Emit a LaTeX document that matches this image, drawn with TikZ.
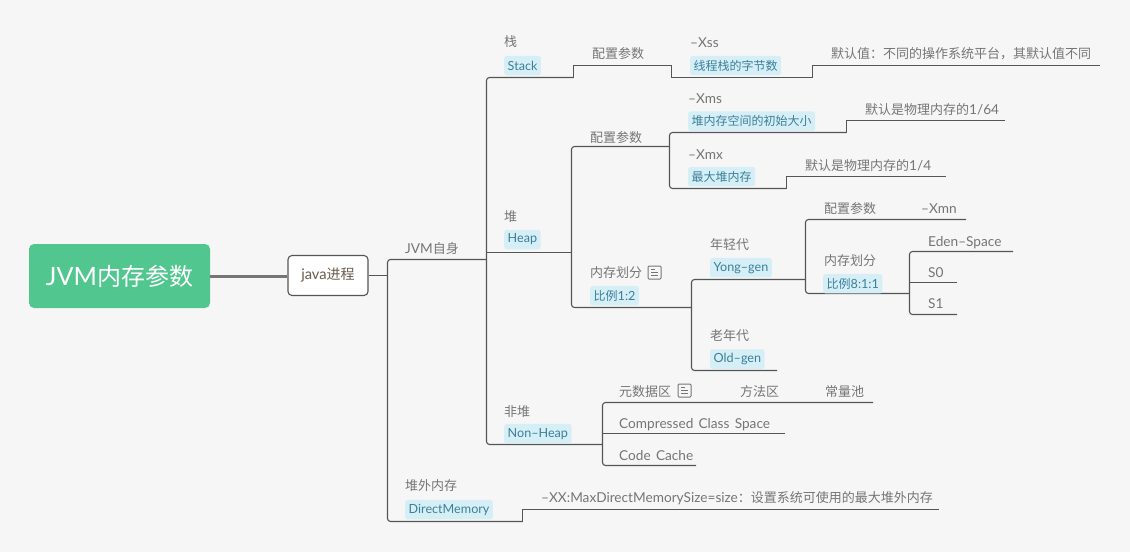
\documentclass[tikz,border=0pt]{standalone}
\usepackage{fontspec}
\setmainfont[Scale=1.05,WordSpace=1.5]{Lato}
\newfontfamily\zhfont{Noto Sans CJK SC}
\XeTeXinterchartokenstate=1
\newXeTeXintercharclass\zhclass
\newcount\zhchar
\zhchar="4E00
\loop
  \XeTeXcharclass\zhchar=\zhclass
  \ifnum\zhchar<"9FFF \advance\zhchar by 1
\repeat
\XeTeXcharclass"FF0C=\zhclass
\XeTeXcharclass"FF1A=\zhclass
\XeTeXinterchartoks 0 \zhclass={\zhfont}
\XeTeXinterchartoks 4095 \zhclass={\zhfont}
\XeTeXinterchartoks \zhclass 0 ={\rmfamily}
\definecolor{pagebg}{HTML}{F6F6F6}
\definecolor{rootgreen}{HTML}{52C68F}
\definecolor{linegray}{HTML}{555555}
\definecolor{labelgray}{HTML}{757575}
\definecolor{tagfill}{HTML}{D6EFF7}
\definecolor{tagtext}{HTML}{3C7F98}
\definecolor{javatext}{HTML}{6B5B4C}
\tikzset{
  link/.style={draw=linegray,line width=1.1pt,rounded corners=3pt},
  sharp/.style={draw=linegray,line width=1.1pt},
  label/.style={anchor=west,inner sep=0pt,text=labelgray,font=\fontsize{13}{13}\selectfont,text height=11.5pt,text depth=1.5pt},
  tagbox/.style={anchor=west,inner xsep=3.5pt,inner ysep=0pt,fill=tagfill,text=tagtext,rounded corners=2.5pt,font=\fontsize{12}{12}\selectfont,minimum height=19.5pt},
  noteicon/.pic={
    \draw[labelgray,line width=1pt,rounded corners=1pt] (0,0) rectangle (13,13);
    \draw[labelgray,line width=1pt] (3,3.5) -- (7,3.5) (3,6.5) -- (10,6.5) (3,9.5) -- (10,9.5);
  }
}
\begin{document}
\begin{tikzpicture}[x=1pt,y=-1pt]
\useasboundingbox[fill=pagebg] (0,0) rectangle (1130,552);
\node[fill=rootgreen,rounded corners=5pt,text=white,minimum width=181pt,minimum height=64pt,inner sep=0pt,font=\fontsize{24}{24}\selectfont] (root) at (119.5,276) {JVM内存参数};
\node[draw=linegray,line width=1.1pt,fill=white,rounded corners=4pt,text=javatext,minimum width=80pt,minimum height=40pt,inner sep=0pt,font=\fontsize{14}{14}\selectfont] (java) at (328,275.5) {java进程};
\draw[draw=labelgray,line width=3pt] (root.east) -- (root.east -| java.west);
\coordinate (trunk) at (387.5,275.5);
\coordinate (jvmself) at (387.5,259.5);
\coordinate (jvmjoin) at (486.5,259.5);
\coordinate (offheap) at (387.5,521.5);
\coordinate (offrise) at (522.5,521.5);
\coordinate (offtop) at (522.5,509.5);
\coordinate (offend) at (939,509.5);
\coordinate (stack) at (486.5,77.5);
\coordinate (stackrise) at (573.5,77.5);
\coordinate (stacktop) at (573.5,65.5);
\coordinate (stackdown) at (671.5,65.5);
\coordinate (xssjoin) at (671.5,77.5);
\coordinate (xssrise) at (812.5,77.5);
\coordinate (xsstop) at (812.5,65.5);
\coordinate (xssend) at (1100,65.5);
\coordinate (heap) at (486.5,252.5);
\coordinate (heapjoin) at (571.5,252.5);
\coordinate (nonheap) at (486.5,444.5);
\coordinate (nonjoin) at (602.5,444.5);
\coordinate (heapconf) at (571.5,146.5);
\coordinate (confjoin) at (669.5,146.5);
\coordinate (heapdiv) at (571.5,307.5);
\coordinate (divjoin) at (691.5,307.5);
\coordinate (xms) at (669.5,132.5);
\coordinate (xmsrise) at (846.5,132.5);
\coordinate (xmstop) at (846.5,120.5);
\coordinate (xmsend) at (1005,120.5);
\coordinate (xmx) at (669.5,188.5);
\coordinate (xmxrise) at (786.5,188.5);
\coordinate (xmxtop) at (786.5,176.5);
\coordinate (xmxend) at (946,176.5);
\coordinate (yong) at (691.5,279.5);
\coordinate (yongjoin) at (805.5,279.5);
\coordinate (old) at (691.5,370.5);
\coordinate (oldend) at (777,370.5);
\coordinate (yongconf) at (805.5,219.5);
\coordinate (xmnend) at (966,219.5);
\coordinate (yongdiv) at (805.5,293.5);
\coordinate (ratiojoin) at (909.5,293.5);
\coordinate (eden) at (909.5,251.5);
\coordinate (edenend) at (1013,251.5);
\coordinate (szero) at (909.5,282.5);
\coordinate (szeroend) at (957,282.5);
\coordinate (sone) at (909.5,314.5);
\coordinate (soneend) at (957,314.5);
\coordinate (meta) at (602.5,402.5);
\coordinate (metaend) at (873,402.5);
\coordinate (ccs) at (602.5,433.5);
\coordinate (ccsend) at (785,433.5);
\coordinate (cache) at (602.5,465.5);
\coordinate (cacheend) at (696,465.5);
\draw[sharp] (java.east) -- (trunk);
\draw[link] (jvmjoin) -- (jvmself) -- (offheap) -- (offrise);
\draw[sharp] (offrise) -- (offtop) -- (offend);
\draw[link] (stackrise) -- (stack) -- (nonheap) -- (nonjoin);
\draw[sharp] (stackrise) -- (stacktop) -- (stackdown) -- (xssjoin) -- (xssrise) -- (xsstop) -- (xssend);
\draw[sharp] (heap) -- (heapjoin);
\draw[link] (confjoin) -- (heapconf) -- (heapdiv) -- (divjoin);
\draw[link] (xmsrise) -- (xms) -- (xmx) -- (xmxrise);
\draw[sharp] (xmsrise) -- (xmstop) -- (xmsend);
\draw[sharp] (xmxrise) -- (xmxtop) -- (xmxend);
\draw[link] (yongjoin) -- (yong) -- (old) -- (oldend);
\draw[link] (xmnend) -- (yongconf) -- (yongdiv) -- (ratiojoin);
\draw[link] (edenend) -- (eden) -- (sone) -- (soneend);
\draw[sharp] (szero) -- (szeroend);
\draw[link] (metaend) -- (meta) -- (cache) -- (cacheend);
\draw[sharp] (ccs) -- (ccsend);
\node[label] (jvmlabel) at (405,248) {JVM自身};
\node[label] (stacklabel) at (504,41) {栈};
\node[tagbox] (stacktag) at (504,65.5) {Stack};
\node[label] (stackconf) at (592,53) {配置参数};
\node[label] (xsslabel) at (690,42) {–Xss};
\node[tagbox] (xsstag) at (690,65.5) {线程栈的字节数};
\node[label] (xssnote) at (831,53) {默认值：不同的操作系统平台，其默认值不同};
\node[label] (xmslabel) at (688,98) {–Xms};
\node[tagbox] (xmstag) at (688,121.2) {堆内存空间的初始大小};
\node[label] (xmsnote) at (865,109) {默认是物理内存的1/64};
\node[label] (heapconflabel) at (590,137.5) {配置参数};
\node[label] (xmxlabel) at (688,154) {–Xmx};
\node[tagbox] (xmxtag) at (688,176.7) {最大堆内存};
\node[label] (xmxnote) at (805,165) {默认是物理内存的1/4};
\node[label] (heaplabel) at (504,216) {堆};
\node[tagbox] (heaptag) at (504,239.5) {Heap};
\node[label] (divlabel) at (590,272) {内存划分};
\pic at (648,266) {noteicon};
\node[tagbox] (divtag) at (590,295.7) {比例1:2};
\node[label] (yonglabel) at (710,244) {年轻代};
\node[tagbox] (yongtag) at (710,267.7) {Yong–gen};
\node[label] (oldlabel) at (710,335) {老年代};
\node[tagbox] (oldtag) at (710,359) {Old–gen};
\node[label] (yongconflabel) at (824,208) {配置参数};
\node[label] (xmnlabel) at (921,208) {–Xmn};
\node[label] (ratiolabel) at (824,260) {内存划分};
\node[tagbox] (ratiotag) at (823,283.7) {比例8:1:1};
\node[label] (edenlabel) at (928,241) {Eden–Space};
\node[label] (szerolabel) at (928,272) {S0};
\node[label] (sonelabel) at (928,303) {S1};
\node[label] (nonlabel) at (504,411) {非堆};
\node[tagbox] (nontag) at (504,433.7) {Non–Heap};
\node[label] (metalabel) at (619,391) {元数据区};
\pic at (678,384) {noteicon};
\node[label] (methodlabel) at (740,391) {方法区};
\node[label] (poollabel) at (825,391) {常量池};
\node[label] (ccslabel) at (619,423) {Compressed Class Space};
\node[label] (cachelabel) at (619,455) {Code Cache};
\node[label] (offlabel) at (405,485) {堆外内存};
\node[tagbox] (offtag) at (405,509.7) {DirectMemory};
\node[label] (offnote) at (541,497) {–XX:MaxDirectMemorySize=size：设置系统可使用的最大堆外内存};
\end{tikzpicture}
\end{document}
